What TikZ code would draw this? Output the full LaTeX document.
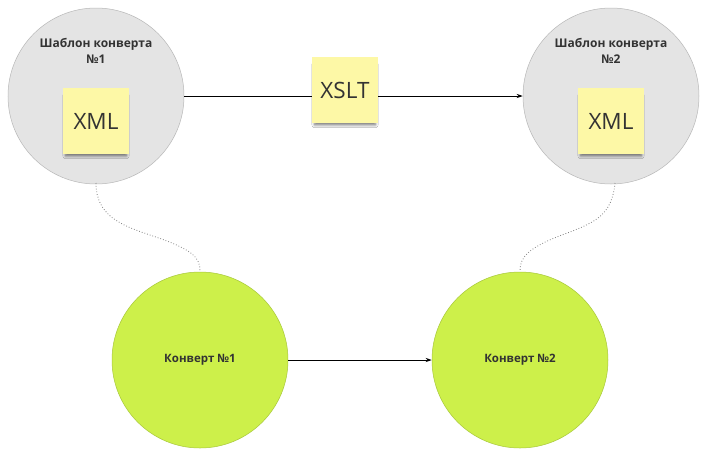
\documentclass[tikz,border=0pt]{standalone}
\usepackage{fontspec}
\setmainfont{Open Sans}
\usetikzlibrary{arrows.meta,shadows.blur}
\definecolor{tmplgray}{HTML}{E4E4E4}
\definecolor{tmplline}{HTML}{B8B8B8}
\definecolor{envgreen}{HTML}{CDF04A}
\definecolor{envline}{HTML}{A8C83A}
\definecolor{notey}{HTML}{FDF8A6}
\definecolor{txt}{HTML}{333333}
\tikzset{
  tmpl/.style={circle, fill=tmplgray, draw=tmplline, line width=0.5pt, minimum size=176pt, inner sep=0pt},
  env/.style={circle, fill=envgreen, draw=envline, line width=0.5pt, minimum size=176pt, inner sep=0pt, font=\bfseries\fontsize{11.5}{13}\selectfont, text=txt},
  note/.style={fill=notey, minimum width=66pt, minimum height=66pt, inner sep=0pt, font=\fontsize{22.5}{26}\selectfont, text=txt,
    blur shadow={shadow xshift=0pt, shadow yshift=-5pt, shadow scale=0.92, shadow opacity=55, shadow blur steps=8, shadow blur radius=3pt}},
  title/.style={font=\bfseries\fontsize{12}{16}\selectfont, text=txt, align=center},
  link/.style={-{Stealth[length=6pt,width=4pt]}, line width=0.8pt, black},
  dots/.style={dotted, line width=0.8pt, gray}
}
\begin{document}
\begin{tikzpicture}[x=1pt,y=-1pt]
\useasboundingbox[fill=white] (0,0) rectangle (713,456);
\node[tmpl] (t1) at (96,96) {};
\node[tmpl] (t2) at (611,96) {};
\node[title] (t1lbl) at (96,51) {Шаблон конверта\\№1};
\node[title] (t2lbl) at (611,51) {Шаблон конверта\\№2};
\node[note] (x1) at (96,121) {XML};
\node[note] (x2) at (611,121) {XML};
\node[env] (e1) at (200,360) {Конверт №1};
\node[env] (e2) at (520,360) {Конверт №2};
\draw[link] (t1.east) -- (t2.west);
\node[note] (xslt) at (345,90) {XSLT};
\draw[link] (e1.east) -- (e2.west);
\draw[dots] (96,183) .. controls (96,215) and (120,225) .. (150,235) .. controls (195,250) and (200,258) .. (e1.north);
\draw[dots] (615,183) .. controls (612,215) and (595,222) .. (570,232) .. controls (525,248) and (520,258) .. (e2.north);
\end{tikzpicture}
\end{document}
